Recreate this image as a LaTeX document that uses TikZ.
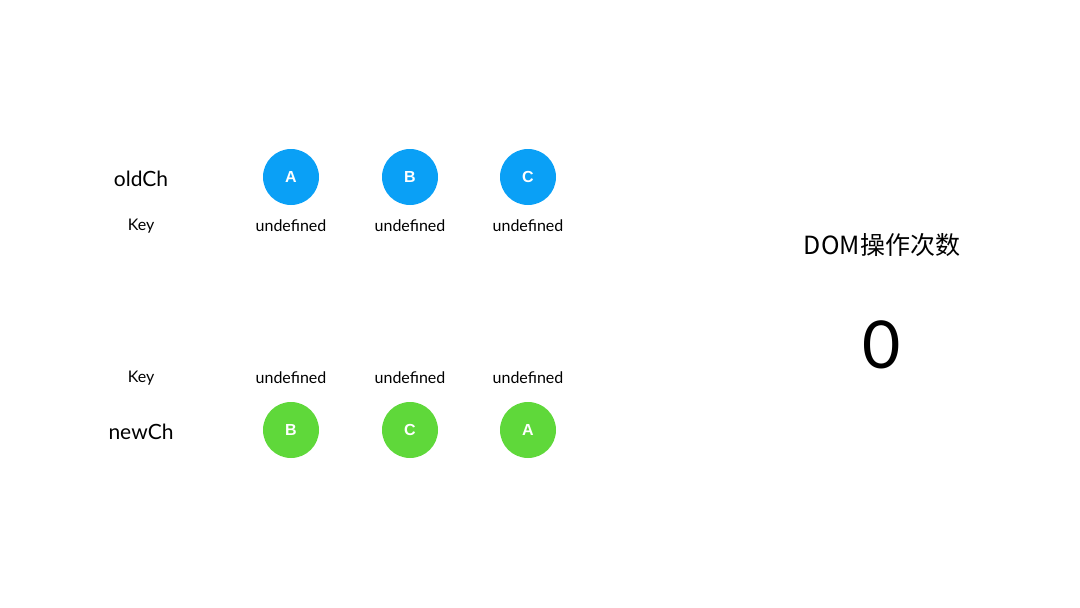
\documentclass[tikz,border=0pt]{standalone}
\usepackage{fontspec}
\setmainfont{Lato}
\newfontfamily\cjk{Noto Sans CJK SC}
\newfontfamily\arial{Liberation Sans}
\definecolor{cblue}{HTML}{0AA0F6}
\definecolor{cgreen}{HTML}{5FD83A}
\begin{document}
\begin{tikzpicture}[x=1pt,y=-1pt,
  ball/.style={circle,minimum size=56pt,inner sep=0pt,text=white,font=\arial\bfseries\fontsize{16}{16}\selectfont},
  lbl/.style={font=\fontsize{16}{16}\selectfont},
  big/.style={font=\fontsize{21}{21}\selectfont}]
\useasboundingbox (0,0) rectangle (1080,608);
\node[big] (oldch) at (141,179) {oldCh};
\node[lbl] (k1) at (141,226) {Key};
\node[ball,fill=cblue] (oa) at (291,177) {A};
\node[ball,fill=cblue] (ob) at (410,177) {B};
\node[ball,fill=cblue] (oc) at (528,177) {C};
\node[lbl] (u1) at (291,226) {undefined};
\node[lbl] (u2) at (410,226) {undefined};
\node[lbl] (u3) at (528,226) {undefined};
\node[lbl] (k2) at (141,378) {Key};
\node[lbl] (u4) at (291,378) {undefined};
\node[lbl] (u5) at (410,378) {undefined};
\node[lbl] (u6) at (528,378) {undefined};
\node[big] (newch) at (141,432) {newCh};
\node[ball,fill=cgreen] (nb) at (291,430) {B};
\node[ball,fill=cgreen] (nc) at (410,430) {C};
\node[ball,fill=cgreen] (na) at (528,430) {A};
\node[font=\cjk\fontsize{25}{25}\selectfont] (dom) at (882,245) {DOM操作次数};
\node[font=\fontsize{66}{66}\selectfont] (cnt) at (882,345) {0};
\end{tikzpicture}
\end{document}
